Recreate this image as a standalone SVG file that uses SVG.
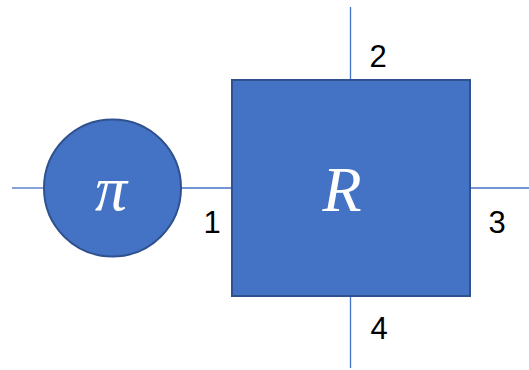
<svg xmlns="http://www.w3.org/2000/svg" width="529" height="370" viewBox="0 0 529 370">
<style>
.wire{stroke:#4472C4;stroke-width:1.3;fill:none}
.node{fill:#4472C4;stroke:#2F528F;stroke-width:2}
.sym{font-family:"Liberation Serif","DejaVu Serif",serif;font-style:italic;fill:#fff;text-anchor:middle;font-size:64px}
.lbl{font-family:"Liberation Sans","Open Sans",sans-serif;font-size:31px;fill:#000;text-anchor:middle}
</style>
<rect width="529" height="370" fill="#fff"/>
<g id="connectors">
<line class="wire" x1="12" y1="188" x2="44" y2="188"/>
<line class="wire" x1="181" y1="188" x2="232" y2="188"/>
<line class="wire" x1="470" y1="188" x2="529" y2="188"/>
<line class="wire" x1="350.5" y1="7" x2="350.5" y2="80"/>
<line class="wire" x1="350.5" y1="296" x2="350.5" y2="368"/>
</g>
<g id="pi">
<circle class="node" cx="112.5" cy="188" r="68.5"/>
<text class="sym" x="111" y="210">π</text>
</g>
<g id="R">
<rect class="node" x="232" y="80" width="238" height="216"/>
<text class="sym" x="342" y="211">R</text>
</g>
<g id="labels">
<text class="lbl" x="378" y="67">2</text>
<text class="lbl" x="212" y="233">1</text>
<text class="lbl" x="497" y="233">3</text>
<text class="lbl" x="379" y="339">4</text>
</g>
</svg>
